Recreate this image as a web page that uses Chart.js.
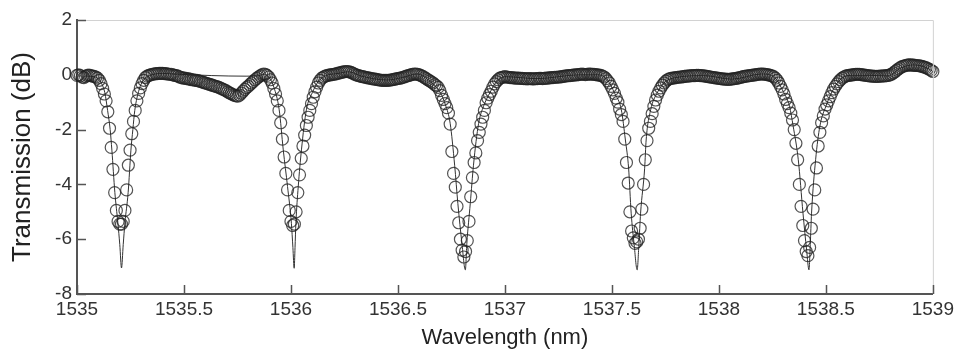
<!DOCTYPE html>
<html>
<head>
<meta charset="utf-8">
<script src="https://cdn.jsdelivr.net/npm/chart.js@4.4.1/dist/chart.umd.min.js"></script>
<style>
  html, body { margin: 0; padding: 0; background: #fff; }
</style>
</head>
<body>
<canvas id="spectrum" width="958" height="357"></canvas>
<script>
// measured transmission, sampled every 8 pm from 1535 nm
const wlStart = 1535;
const wlStep = 0.008;
const measuredDb = [
  -0.02, 0.0, -0.03, -0.08, -0.1, -0.06, -0.02, -0.01, -0.03, -0.05,
  -0.06, -0.08, -0.12, -0.2, -0.32, -0.5, -0.7, -0.95, -1.35, -1.95,
  -2.65, -3.45, -4.3, -4.95, -5.35, -5.45, -5.45, -5.35, -4.95, -4.2,
  -3.3, -2.75, -2.15, -1.7, -1.3, -0.95, -0.68, -0.48, -0.32, -0.2,
  -0.1, -0.05, -0.02, 0.0, 0.02, 0.03, 0.04, 0.04, 0.05, 0.05,
  0.05, 0.04, 0.04, 0.03, 0.02, 0.02, 0.0, -0.02, -0.03, -0.05,
  -0.08, -0.1, -0.12, -0.12, -0.14, -0.15, -0.16, -0.18, -0.18, -0.2,
  -0.2, -0.22, -0.24, -0.26, -0.28, -0.3, -0.32, -0.34, -0.36, -0.38,
  -0.4, -0.42, -0.44, -0.46, -0.49, -0.52, -0.55, -0.58, -0.62, -0.66,
  -0.69, -0.72, -0.75, -0.77, -0.78, -0.74, -0.67, -0.6, -0.53, -0.47,
  -0.42, -0.36, -0.3, -0.24, -0.18, -0.13, -0.08, -0.04, 0.0, 0.03,
  0.02, -0.02, -0.08, -0.18, -0.3, -0.5, -0.7, -0.95, -1.3, -1.75,
  -2.35, -3.0, -3.6, -4.2, -4.95, -5.35, -5.5, -5.45, -5.0, -4.3,
  -3.65, -3.05, -2.6, -2.2, -1.85, -1.55, -1.3, -1.05, -0.82, -0.62,
  -0.45, -0.3, -0.2, -0.12, -0.08, -0.05, -0.03, -0.01, 0.0, 0.01,
  0.02, 0.03, 0.05, 0.06, 0.08, 0.1, 0.11, 0.12, 0.12, 0.11,
  0.09, 0.06, 0.03, 0.0, -0.02, -0.04, -0.06, -0.07, -0.08, -0.1,
  -0.11, -0.12, -0.14, -0.15, -0.16, -0.17, -0.18, -0.19, -0.2, -0.2,
  -0.2, -0.2, -0.2, -0.19, -0.18, -0.17, -0.16, -0.14, -0.13, -0.12,
  -0.1, -0.08, -0.06, -0.04, -0.02, 0.0, 0.02, 0.03, 0.03, 0.02,
  0.0, -0.03, -0.06, -0.1, -0.14, -0.18, -0.22, -0.26, -0.3, -0.36,
  -0.4, -0.46, -0.58, -0.75, -0.9, -1.05, -1.2, -1.4, -1.8, -2.8,
  -3.6, -4.1, -4.8, -5.4, -6.0, -6.4, -6.65, -6.45, -6.05, -5.35,
  -4.45, -3.75, -3.2, -2.85, -2.4, -2.1, -1.8, -1.55, -1.3, -1.02,
  -0.85, -0.72, -0.6, -0.45, -0.33, -0.25, -0.18, -0.12, -0.1, -0.08,
  -0.07, -0.08, -0.09, -0.1, -0.1, -0.11, -0.12, -0.12, -0.12, -0.13,
  -0.13, -0.14, -0.14, -0.15, -0.14, -0.14, -0.15, -0.15, -0.14, -0.14,
  -0.13, -0.13, -0.14, -0.13, -0.12, -0.12, -0.11, -0.1, -0.1, -0.09,
  -0.09, -0.08, -0.08, -0.07, -0.06, -0.05, -0.04, -0.03, -0.03, -0.02,
  -0.01, 0.0, 0.0, 0.01, 0.02, 0.03, 0.02, 0.01, 0.02, 0.03,
  0.03, 0.02, 0.02, 0.01, 0.0, -0.01, -0.02, -0.05, -0.08, -0.14,
  -0.22, -0.3, -0.42, -0.55, -0.68, -0.85, -1.0, -1.25, -1.45, -1.7,
  -2.35, -3.2, -3.95, -5.0, -5.7, -5.95, -6.15, -6.1, -6.0, -5.6,
  -4.9, -4.0, -3.1, -2.4, -1.95, -1.7, -1.42, -1.15, -0.92, -0.74,
  -0.6, -0.48, -0.38, -0.3, -0.23, -0.18, -0.15, -0.13, -0.12, -0.11,
  -0.1, -0.09, -0.08, -0.08, -0.07, -0.06, -0.05, -0.05, -0.04, -0.03,
  -0.03, -0.03, -0.02, -0.02, -0.03, -0.03, -0.04, -0.05, -0.06, -0.07,
  -0.08, -0.09, -0.1, -0.11, -0.12, -0.13, -0.14, -0.15, -0.16, -0.16,
  -0.17, -0.17, -0.16, -0.15, -0.14, -0.13, -0.12, -0.1, -0.09, -0.07,
  -0.06, -0.05, -0.04, -0.03, -0.02, -0.01, 0.0, 0.01, 0.02, 0.03,
  0.03, 0.03, 0.02, 0.01, 0.0, -0.02, -0.04, -0.07, -0.12, -0.2,
  -0.3, -0.42, -0.55, -0.7, -0.9, -1.05, -1.2, -1.4, -1.65, -2.0,
  -2.5, -3.1, -4.0, -4.8, -5.5, -6.05, -6.45, -6.6, -6.3, -5.6,
  -4.9, -4.2, -3.4, -2.6, -2.1, -1.75, -1.5, -1.25, -1.1, -0.95,
  -0.8, -0.65, -0.52, -0.42, -0.33, -0.25, -0.18, -0.12, -0.08, -0.05,
  -0.03, -0.02, -0.01, 0.0, 0.01, 0.02, 0.02, 0.02, 0.01, 0.0,
  -0.01, -0.02, -0.03, -0.04, -0.05, -0.05, -0.06, -0.06, -0.06, -0.05,
  -0.05, -0.04, -0.04, -0.03, -0.02, 0.0, 0.03, 0.07, 0.12, 0.17,
  0.22, 0.26, 0.3, 0.32, 0.34, 0.35, 0.36, 0.36, 0.35, 0.35,
  0.34, 0.34, 0.33, 0.32, 0.3, 0.28, 0.26, 0.23, 0.2, 0.16, 0.12
];

// fitted curve (solid line)
const fitWl = [
  1535.000, 1535.050, 1535.080, 1535.100, 1535.115, 1535.130, 1535.143, 1535.155, 1535.163, 1535.177,
  1535.191, 1535.200, 1535.208, 1535.216, 1535.224, 1535.239, 1535.252, 1535.261, 1535.270, 1535.290,
  1535.310, 1535.340, 1535.400, 1535.470, 1535.790, 1535.850, 1535.875, 1535.900, 1535.920, 1535.945,
  1535.964, 1535.984, 1536.002, 1536.009, 1536.015, 1536.019, 1536.023, 1536.034, 1536.049, 1536.072,
  1536.100, 1536.130, 1536.160, 1536.220, 1536.270, 1536.330, 1536.450, 1536.520, 1536.590, 1536.650,
  1536.700, 1536.722, 1536.744, 1536.765, 1536.780, 1536.799, 1536.815, 1536.822, 1536.838, 1536.853,
  1536.877, 1536.900, 1536.930, 1536.960, 1537.000, 1537.150, 1537.350, 1537.440, 1537.480, 1537.513,
  1537.544, 1537.563, 1537.578, 1537.590, 1537.604, 1537.618, 1537.626, 1537.634, 1537.653, 1537.660,
  1537.681, 1537.710, 1537.750, 1537.800, 1537.930, 1538.060, 1538.200, 1538.260, 1538.300, 1538.330,
  1538.347, 1538.371, 1538.393, 1538.410, 1538.421, 1538.427, 1538.433, 1538.452, 1538.472, 1538.500,
  1538.530, 1538.570, 1538.620, 1538.700, 1538.790, 1538.850, 1538.910, 1538.970, 1539.000
];
const fitDb = [
  -0.03, -0.05, -0.07, -0.15, -0.32, -0.65, -1.3, -2.0, -2.75, -4.3,
  -5.4, -6.2, -7.05, -6.2, -5.4, -4.3, -2.75, -2.0, -1.3, -0.55,
  -0.2, -0.03, 0.05, 0.02, -0.05, -0.03, 0.02, -0.12, -0.45, -1.28,
  -2.74, -4.08, -5.42, -6.3, -7.06, -6.3, -5.42, -4.08, -2.74, -1.28,
  -0.65, -0.22, -0.04, 0.05, 0.11, -0.05, -0.19, -0.1, 0.03, -0.24,
  -0.68, -1.1, -1.77, -3.3, -4.7, -6.15, -7.12, -6.15, -4.7, -3.3,
  -1.77, -1.15, -0.65, -0.26, -0.07, -0.14, 0.0, 0.0, -0.2, -0.68,
  -1.28, -2.38, -3.41, -5.05, -6.2, -7.12, -6.2, -5.05, -3.41, -2.38,
  -1.28, -0.68, -0.25, -0.1, -0.03, -0.16, 0.03, -0.1, -0.6, -1.15,
  -1.87, -3.1, -5.05, -6.4, -7.12, -6.2, -5.05, -3.1, -1.87, -1.15,
  -0.6, -0.15, -0.02, -0.02, -0.04, 0.25, 0.36, 0.26, 0.12
];

const xTicks = [1535, 1535.5, 1536, 1536.5, 1537, 1537.5, 1538, 1538.5, 1539];
const yTicks = [-8, -6, -4, -2, 0, 2];

const measuredPts = measuredDb.map((v, i) => ({ x: wlStart + i * wlStep, y: v }));
const fitPts = fitWl.map((w, i) => ({ x: w, y: fitDb[i] }));

const sans = '"Liberation Sans", Arial, sans-serif';

// short tick marks pointing into the plot, plus the light top/right frame
const innerTicks = {
  id: 'innerTicks',
  afterDraw(chart) {
    const { ctx, chartArea: a, scales: { x, y } } = chart;
    ctx.save();
    ctx.strokeStyle = '#d2d2d2';
    ctx.lineWidth = 1;
    ctx.beginPath();
    ctx.moveTo(a.left, a.top + 0.5);
    ctx.lineTo(a.right + 0.5, a.top + 0.5);
    ctx.lineTo(a.right + 0.5, a.bottom);
    ctx.stroke();
    ctx.strokeStyle = '#555';
    ctx.lineWidth = 1.5;
    ctx.beginPath();
    x.ticks.forEach(t => {
      const px = Math.round(x.getPixelForValue(t.value)) + 0.5;
      ctx.moveTo(px, a.bottom);
      ctx.lineTo(px, a.bottom - 9);
    });
    y.ticks.forEach(t => {
      const py = Math.round(y.getPixelForValue(t.value)) + 0.5;
      ctx.moveTo(a.left, py);
      ctx.lineTo(a.left + 9, py);
    });
    ctx.stroke();
    ctx.restore();
  }
};

new Chart(document.getElementById('spectrum'), {
  type: 'scatter',
  data: {
    datasets: [
      {
        label: 'measured',
        data: measuredPts,
        showLine: false,
        pointStyle: 'circle',
        pointRadius: 6,
        pointBorderWidth: 1.2,
        pointBorderColor: 'rgba(35,35,35,0.78)',
        pointBackgroundColor: 'rgba(0,0,0,0)',
        clip: false
      },
      {
        label: 'fit',
        data: fitPts,
        showLine: true,
        borderColor: '#333',
        borderWidth: 1,
        pointRadius: 0,
        cubicInterpolationMode: 'monotone',
        fill: false
      }
    ]
  },
  options: {
    responsive: false,
    animation: false,
    layout: { padding: { left: 0, top: 20, right: 22, bottom: 0 } },
    plugins: { legend: { display: false }, tooltip: { enabled: false } },
    scales: {
      x: {
        type: 'linear',
        min: 1535,
        max: 1539,
        afterBuildTicks: s => { s.ticks = xTicks.map(v => ({ value: v })); },
        afterFit: s => { s.height = 63; },
        grid: { display: false, drawTicks: false },
        border: { color: '#555', width: 2 },
        ticks: {
          padding: 4,
          maxRotation: 0,
          color: '#333',
          font: { family: sans, size: 19 },
          callback: v => String(v)
        },
        title: {
          display: true,
          text: 'Wavelength (nm)',
          color: '#222',
          font: { family: sans, size: 22 },
          padding: { top: 0, bottom: 6 }
        }
      },
      y: {
        min: -8,
        max: 2,
        afterBuildTicks: s => { s.ticks = yTicks.map(v => ({ value: v })); },
        afterFit: s => { s.width = 77; },
        grid: { display: false, drawTicks: false },
        border: { color: '#555', width: 2 },
        ticks: {
          padding: 5,
          color: '#333',
          font: { family: sans, size: 19 },
          callback: v => String(v)
        },
        title: {
          display: true,
          text: 'Transmission (dB)',
          color: '#222',
          font: { family: sans, size: 26 },
          padding: { top: 7, bottom: 0 }
        }
      }
    }
  },
  plugins: [innerTicks]
});
</script>
</body>
</html>
